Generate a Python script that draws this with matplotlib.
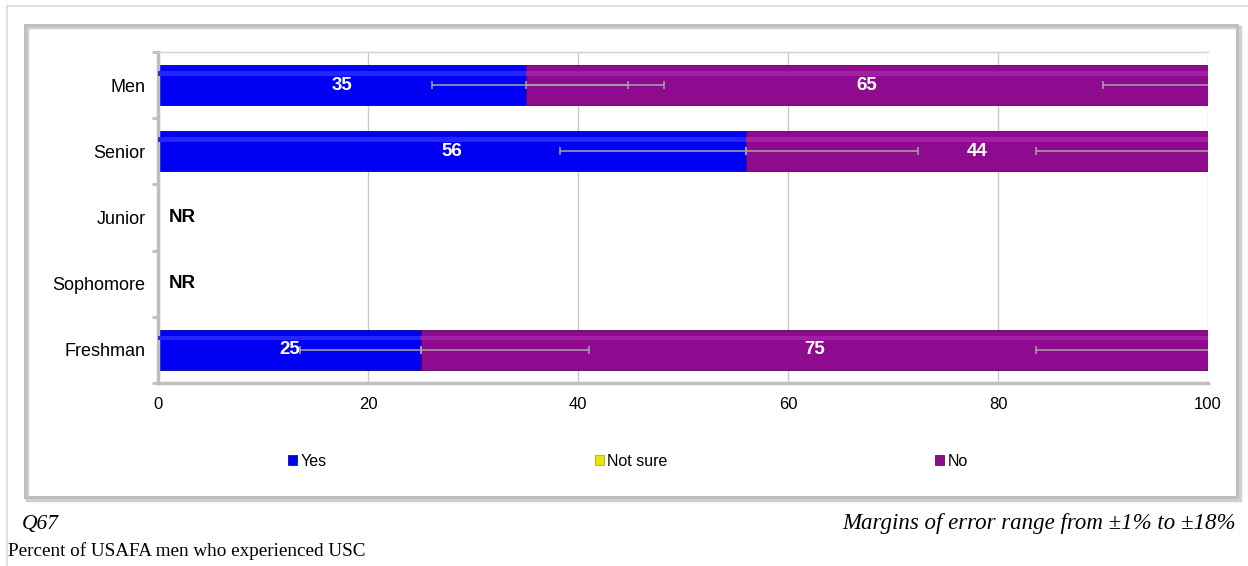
import numpy as np
import matplotlib
matplotlib.use("Agg")
import matplotlib.pyplot as plt
from matplotlib.patches import Rectangle, Patch
from matplotlib.lines import Line2D

plt.rcParams['font.family'] = ['Liberation Sans', 'DejaVu Sans']

# data, top to bottom
categories = ["Men", "Senior", "Junior", "Sophomore", "Freshman"]
yes = [35, 56, np.nan, np.nan, 25]
not_sure = [0, 0, np.nan, np.nan, 0]
no = [65, 44, np.nan, np.nan, 75]
not_reported = [False, False, True, True, False]

# error bars (lower, upper)
yes_err_lo = [8.9, 17.7, np.nan, np.nan, 11.5]
yes_err_hi = [9.8, 16.4, np.nan, np.nan, 16.0]
ns_err_lo = [0.0, 0.0, np.nan, np.nan, 0.0]
ns_err_hi = [13.2, 0.0, np.nan, np.nan, 0.0]
no_err_lo = [10.0, 16.4, np.nan, np.nan, 16.4]
no_err_hi = [10.0, 16.4, np.nan, np.nan, 16.4]

xticks = [0, 20, 40, 60, 80, 100]
legend_labels = ["Yes", "Not sure", "No"]

c_yes = "#0000F5"
c_ns = "#E8E800"
c_no = "#8E0A8E"
c_err = "#A6A6A6"

W, H = 1248, 566
fig = plt.figure(figsize=(W / 100, H / 100), dpi=100)


def fx(px):
    return px / W


def fy(py):
    return 1 - py / H


# page lines and chart frame
fig.add_artist(Line2D([fx(7), 1], [fy(6), fy(6)], color="#D9D9D9", lw=1.2))
fig.add_artist(Line2D([fx(7), fx(7)], [fy(6), 0], color="#D9D9D9", lw=1.2))
fig.add_artist(Rectangle((fx(27), fy(500)), fx(1240) - fx(27), fy(27) - fy(500),
                         fill=False, ec="#D0D0D0", lw=2.5))
fig.add_artist(Rectangle((fx(25), fy(497)), fx(1237) - fx(25), fy(25) - fy(497),
                         fill=False, ec="#BFBFBF", lw=2.2))

ax = fig.add_axes([fx(158), fy(383), fx(1208) - fx(158), fy(52) - fy(383)])

y = np.arange(len(categories))[::-1]
yes_a = np.array(yes, float)
ns_a = np.array(not_sure, float)
no_a = np.array(no, float)
h = 0.6

ax.barh(y, yes_a, height=h, color=c_yes, edgecolor="#0000A0", lw=0.6, zorder=2)
ax.barh(y, ns_a, left=yes_a, height=h, color=c_ns, lw=0, zorder=2)
ax.barh(y, no_a, left=yes_a + ns_a, height=h, color=c_no, edgecolor="#5A005A", lw=0.6, zorder=2)
# soft highlight band for the bevelled look
ax.barh(y + h * 0.3, yes_a, height=h * 0.12, color="#2525FF", lw=0, zorder=3)
ax.barh(y + h * 0.3, no_a, left=yes_a + ns_a, height=h * 0.12, color="#A320A3", lw=0, zorder=3)

ek = dict(fmt="none", ecolor=c_err, elinewidth=1.1, capsize=3, capthick=1.1, zorder=4)
ax.errorbar(yes_a, y, xerr=[yes_err_lo, yes_err_hi], **ek)
ax.errorbar(yes_a + ns_a, y, xerr=[ns_err_lo, ns_err_hi], **ek)
ax.errorbar(yes_a + ns_a + no_a, y, xerr=[no_err_lo, no_err_hi], **ek)

for i in range(len(categories)):
    if not_reported[i]:
        ax.text(1.0, y[i], "NR", ha="left", va="center", fontsize=13.5,
                fontweight="bold", color="black", zorder=5)
        continue
    ax.text(yes_a[i] / 2, y[i], f"{yes[i]:g}", ha="center", va="center",
            fontsize=13.5, fontweight="bold", color="white", zorder=5)
    ax.text(yes_a[i] + ns_a[i] + no_a[i] / 2, y[i], f"{no[i]:g}", ha="center",
            va="center", fontsize=13.5, fontweight="bold", color="white", zorder=5)

ax.set_xlim(0, 100)
ax.set_ylim(-0.5, len(categories) - 0.5)
ax.set_xticks(xticks)
ax.set_xticklabels([str(t) for t in xticks], fontsize=12)
ax.set_yticks(y)
ax.set_yticklabels(categories, fontsize=13)
ax.set_yticks(np.arange(-0.5, len(categories), 1.0), minor=True)
ax.tick_params(axis="y", which="major", length=0, pad=9)
ax.tick_params(axis="y", which="minor", length=4, width=2, color="#BFBFBF", direction="out")
ax.tick_params(axis="x", length=0, pad=10)
ax.grid(axis="x", color="#C8C8C8", lw=1, zorder=0)
ax.set_axisbelow(True)

for s in ["left", "bottom"]:
    ax.spines[s].set_color("#BFBFBF")
    ax.spines[s].set_linewidth(2.5)
ax.spines["top"].set_color("#D0D0D0")
ax.spines["top"].set_linewidth(1)
ax.spines["right"].set_visible(False)

handles = [Patch(facecolor=c_yes, edgecolor="#000080", lw=0.5),
           Patch(facecolor=c_ns, edgecolor="#A0A000", lw=0.5),
           Patch(facecolor=c_no, edgecolor="#400040", lw=0.5)]
fig.legend(handles, legend_labels, loc="center", bbox_to_anchor=(fx(628), fy(461)),
           ncol=3, frameon=False, fontsize=11.5, handlelength=0.55, handleheight=0.55,
           handletextpad=0.2, columnspacing=16.8)

serif = ['Liberation Serif', 'DejaVu Serif']
fig.text(fx(22), fy(524), "Q67", family=serif, style="italic", fontsize=15.5,
         ha="left", va="center")
fig.text(fx(1236), fy(524), "Margins of error range from \u00b11% to \u00b118%",
         family=serif, style="italic", fontsize=16.5, ha="right", va="center")
fig.text(fx(8), fy(551), "Percent of USAFA men who experienced USC", family=serif,
         fontsize=13.8, ha="left", va="center")

fig.savefig("out.png", dpi=100)
